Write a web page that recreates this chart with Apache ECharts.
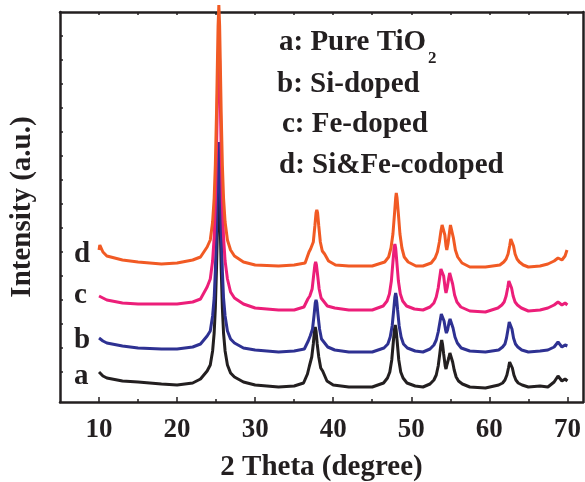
<!DOCTYPE html>
<html>
<head>
<meta charset="utf-8">
<title>XRD patterns</title>
<script src="https://cdn.jsdelivr.net/npm/echarts@6/dist/echarts.min.js"></script>
<style>
  html, body { margin: 0; padding: 0; background: #fff; }
  #chart { width: 585px; height: 482px; }
</style>
</head>
<body>
<div id="chart"></div>
<script>
// XRD traces, [2 theta, intensity (a.u., stacked with offset)]
const pureTiO2 = [
  [10, 30], [10.5, 26], [11, 24], [13, 21], [15, 20], [18, 18], [20, 17], [22, 19], [23, 23],
  [23.85, 31], [24.25, 37], [24.55, 51], [24.75, 69], [24.9, 94], [25.05, 134], [25.15, 168], [25.25, 201],
  [25.35, 217], [25.45, 201], [25.55, 168], [25.65, 134], [25.8, 94], [25.95, 69], [26.15, 51], [26.45, 37],
  [26.85, 29], [27.35, 25], [28.5, 20], [30, 17], [33, 15], [35, 16],
  [36.2, 19], [36.7, 28], [36.95, 36], [37.25, 45], [37.45, 58], [37.6, 71], [37.7, 75], [37.8, 71],
  [37.95, 58], [38.15, 45], [38.4, 34], [38.65, 31], [39.2, 21], [40, 17],
  [42, 15], [45, 15], [46.45, 19], [46.95, 24], [47.25, 30], [47.5, 42], [47.7, 60], [47.85, 73],
  [47.95, 77], [48.05, 73], [48.2, 60], [48.4, 42], [48.65, 30], [48.95, 24], [49.45, 19], [50.5, 16],
  [51.5, 15], [52.4, 18], [52.9, 22], [53.2, 27], [53.45, 36], [53.65, 48], [53.8, 58], [53.9, 62],
  [54, 58], [54.15, 48], [54.35, 36], [54.45, 33], [54.6, 38], [54.8, 44], [54.95, 49], [55.05, 50],
  [55.15, 47], [55.3, 40], [55.5, 32], [55.75, 25], [56.05, 21], [56.55, 18], [57.5, 15],
  [59.5, 14], [61.2, 17], [61.7, 19], [62, 22], [62.25, 27], [62.45, 34], [62.6, 40], [62.7, 42],
  [62.8, 40], [62.95, 34], [63.15, 27], [63.4, 22], [63.7, 19], [64.2, 17], [65, 15],
  [66.5, 16], [67.5, 15], [68.3, 20], [68.8, 26], [69.3, 21], [69.7, 23], [70, 21]
]
const siDoped = [
  [10, 64], [10.5, 61], [11, 59], [13, 56], [15, 54], [18, 53], [20, 53], [22, 55], [23, 58],
  [23.85, 66], [24.25, 71], [24.55, 86], [24.75, 104], [24.9, 131], [25.05, 172], [25.15, 207], [25.25, 242],
  [25.35, 260], [25.45, 242], [25.55, 207], [25.65, 172], [25.8, 131], [25.95, 104], [26.15, 86], [26.45, 71],
  [26.85, 63], [27.35, 59], [28.5, 54], [30, 52], [33, 50], [35, 51],
  [36.3, 53], [36.8, 61], [37.05, 66], [37.35, 73], [37.55, 87], [37.7, 99], [37.8, 102], [37.9, 99],
  [38.05, 87], [38.25, 73], [38.5, 63], [38.75, 61], [39.3, 55], [40.2, 52],
  [42, 50], [45, 50], [46.5, 54], [47, 58], [47.3, 65], [47.55, 76], [47.75, 92], [47.9, 105],
  [48, 109], [48.1, 105], [48.25, 92], [48.45, 76], [48.7, 65], [49, 58], [49.5, 54], [50.5, 51],
  [51.5, 50], [52.4, 53], [52.9, 57], [53.2, 62], [53.45, 70], [53.65, 79], [53.85, 88], [53.95, 90],
  [54.05, 88], [54.2, 81], [54.4, 72], [54.5, 69], [54.65, 72], [54.85, 80], [54.97, 83], [55.05, 84],
  [55.15, 82], [55.35, 74], [55.6, 65], [55.9, 59], [56.4, 54], [57.5, 51],
  [59.5, 50], [61.2, 52], [61.7, 55], [62, 58], [62.2, 64], [62.4, 73], [62.55, 80], [62.65, 82],
  [62.75, 80], [62.9, 73], [63.1, 64], [63.35, 58], [63.65, 55], [64.15, 52], [65, 50],
  [66.5, 51], [67.5, 52], [68.3, 55], [68.8, 60], [69.3, 55], [69.7, 57], [70, 56]
]
const feDoped = [
  [10, 106], [10.5, 104], [11, 102], [13, 99], [15, 98], [18, 98], [20, 98], [22, 100], [23, 103],
  [23.85, 115], [24.25, 123], [24.55, 141], [24.75, 165], [24.9, 199], [25.05, 252], [25.15, 296], [25.25, 341],
  [25.35, 362], [25.45, 341], [25.55, 296], [25.65, 252], [25.8, 199], [25.95, 165], [26.15, 141], [26.45, 123],
  [26.85, 110], [27.35, 104], [28.5, 98], [30, 94], [33, 92], [35, 92],
  [36.25, 95], [36.75, 103], [37, 106], [37.3, 113], [37.5, 127], [37.65, 137], [37.75, 140], [37.85, 137],
  [38, 127], [38.2, 113], [38.45, 104], [38.7, 102], [39.25, 96], [40.2, 94],
  [42, 92], [45, 92], [46.4, 96], [46.9, 101], [47.2, 108], [47.45, 121], [47.65, 140], [47.8, 154],
  [47.9, 158], [48, 154], [48.15, 140], [48.35, 121], [48.6, 108], [48.9, 101], [49.4, 96], [50.4, 93],
  [51.5, 92], [52.4, 95], [52.9, 99], [53.2, 105], [53.45, 114], [53.65, 125], [53.8, 133], [53.9, 135],
  [54, 133], [54.15, 126], [54.35, 113], [54.45, 109], [54.6, 114], [54.8, 124], [54.92, 129], [55, 130],
  [55.1, 128], [55.3, 118], [55.55, 107], [55.85, 100], [56.35, 95], [57.5, 91],
  [59.5, 90], [61.1, 94], [61.6, 97], [61.9, 100], [62.15, 106], [62.35, 114], [62.5, 121], [62.6, 123],
  [62.7, 121], [62.85, 114], [63.05, 106], [63.3, 100], [63.6, 97], [64.1, 94], [65, 91],
  [66.5, 92], [67.5, 94], [68.3, 97], [68.8, 100], [69.3, 97], [69.7, 99], [70, 97]
]
const siFeCodoped = [
  [10, 152], [10.1, 157], [10.5, 150], [11, 146], [13, 142], [15, 140], [18, 138], [20, 139], [22, 142], [23, 145],
  [23.85, 155], [24.25, 162], [24.55, 180], [24.75, 204], [24.9, 237], [25.05, 289], [25.15, 333], [25.25, 376],
  [25.35, 397], [25.45, 376], [25.55, 333], [25.65, 289], [25.8, 237], [25.95, 204], [26.15, 180], [26.45, 162],
  [26.85, 152], [27.35, 146], [28.5, 140], [30, 137], [33, 136], [35, 137],
  [36.4, 139], [36.9, 150], [37.1, 153], [37.45, 160], [37.65, 176], [37.8, 189], [37.9, 192], [38, 189],
  [38.15, 176], [38.35, 160], [38.6, 151], [38.9, 148], [39.4, 141], [40.3, 137],
  [42, 136], [45, 136], [46.6, 140], [47.1, 145], [47.4, 154], [47.65, 168], [47.85, 188], [48, 204],
  [48.08, 209], [48.18, 204], [48.35, 188], [48.55, 168], [48.8, 154], [49.1, 145], [49.6, 140], [50.6, 136],
  [51.5, 136], [52.55, 139], [53.05, 144], [53.35, 150], [53.6, 160], [53.8, 171], [53.95, 177], [54.05, 179],
  [54.15, 176], [54.3, 167], [54.45, 156], [54.55, 152], [54.7, 158], [54.9, 170], [55.02, 177], [55.1, 179],
  [55.2, 176], [55.4, 164], [55.65, 152], [55.95, 145], [56.5, 139], [57.5, 135],
  [59.5, 135], [61.35, 137], [61.85, 140], [62.15, 143], [62.4, 148], [62.6, 156], [62.75, 163], [62.85, 165],
  [62.95, 163], [63.1, 156], [63.3, 148], [63.55, 143], [63.85, 140], [64.35, 137], [65, 135],
  [66.5, 136], [67.5, 138], [68.3, 141], [68.8, 144], [69.3, 142], [69.7, 146], [69.95, 152]
]

const curveLetters = ['a', 'b', 'c', 'd']
const legendRows = ['a: Pure TiO', 'b: Si-doped', 'c: Fe-doped', 'd: Si&Fe-codoped']
const xTickLabels = [10, 20, 30, 40, 50, 60, 70]
const xMinorTicks = [15, 25, 35, 45, 55, 65]
const xTopTicks = [10, 15, 20, 25, 30, 35, 40, 45, 50, 55, 60, 65, 70]
const yTicks = [30, 54, 78, 102, 126, 150, 174, 198, 222, 246, 270, 294, 318, 342, 366]

const colors = ['#231f20', '#2e3192', '#ec1e79', '#f15a24']
const serif = '"Liberation Serif", "Times New Roman", serif'
const ink = '#231f20'

const chart = echarts.init(document.getElementById('chart'))

const xBase = { type: 'value', min: 5, max: 72, splitLine: { show: false } }
const yBase = { type: 'value', min: 0, max: 390, splitLine: { show: false }, axisLabel: { show: false } }

chart.setOption({
  animation: false,
  backgroundColor: '#fff',
  // keep the plot box fixed, do not let v6 shrink it to fit the labels
  grid: { left: 60, right: 2, top: 12, bottom: 80, containLabel: false, outerBoundsMode: 'none' },
  xAxis: [
    Object.assign({}, xBase, {
      position: 'bottom',
      name: '2 Theta (degree)',
      nameLocation: 'middle',
      nameGap: 66,
      nameTextStyle: { fontFamily: serif, fontWeight: 'bold', fontSize: 29, color: ink, verticalAlign: 'middle' },
      axisLine: { show: true, onZero: false, lineStyle: { color: ink, width: 2.5 } },
      axisTick: { show: true, inside: true, length: 5, customValues: xTickLabels, lineStyle: { color: ink, width: 1.5 } },
      axisLabel: { customValues: xTickLabels, margin: 28, verticalAlign: 'middle', fontFamily: serif, fontWeight: 'bold', fontSize: 27, color: ink }
    }),
    Object.assign({}, xBase, {
      position: 'bottom',
      axisLine: { show: false },
      axisTick: { show: true, inside: true, length: 3, customValues: xMinorTicks, lineStyle: { color: ink, width: 1.5 } },
      axisLabel: { show: false }
    }),
    Object.assign({}, xBase, {
      position: 'top',
      axisLine: { show: true, onZero: false, lineStyle: { color: ink, width: 2.5 } },
      axisTick: { show: true, inside: true, length: 3, customValues: xTopTicks, lineStyle: { color: ink, width: 1.5 } },
      axisLabel: { show: false }
    })
  ],
  yAxis: [
    Object.assign({}, yBase, {
      position: 'left',
      name: 'Intensity (a.u.)',
      nameLocation: 'middle',
      nameGap: 37,
      nameTextStyle: { fontFamily: serif, fontWeight: 'bold', fontSize: 29, color: ink, verticalAlign: 'middle', align: 'center' },
      axisLine: { show: true, onZero: false, lineStyle: { color: ink, width: 2.5 } },
      axisTick: { show: true, inside: true, length: 3, customValues: yTicks, lineStyle: { color: ink, width: 1.5 } }
    }),
    Object.assign({}, yBase, {
      position: 'right',
      axisLine: { show: true, onZero: false, lineStyle: { color: ink, width: 2.5 } },
      axisTick: { show: false }
    })
  ],
  series: [pureTiO2, siDoped, feDoped, siFeCodoped].map((d, i) => ({
    name: legendRows[i],
    type: 'line',
    data: d,
    showSymbol: false,
    clip: false,
    lineStyle: { color: colors[i], width: 3 },
    z: 2 + i
  })),
  graphic: [
    // legend block at the top
    ...legendRows.map((t, i) => ({
      type: 'text',
      x: [279, 277, 282, 279][i],
      y: [43, 85, 125, 166][i],
      style: { text: t, font: 'bold 29px ' + serif, fill: ink, align: 'left', verticalAlign: 'middle' }
    })),
    {
      type: 'text', x: 428, y: 59,
      style: { text: '2', font: 'bold 17px ' + serif, fill: ink, align: 'left', verticalAlign: 'middle' }
    },
    // letters beside each trace
    ...curveLetters.map((t, i) => ({
      type: 'text',
      x: 74,
      y: [377, 341, 296, 255][i],
      style: { text: t, font: 'bold 29px ' + serif, fill: ink, align: 'left', verticalAlign: 'middle' }
    }))
  ]
})
</script>
</body>
</html>
